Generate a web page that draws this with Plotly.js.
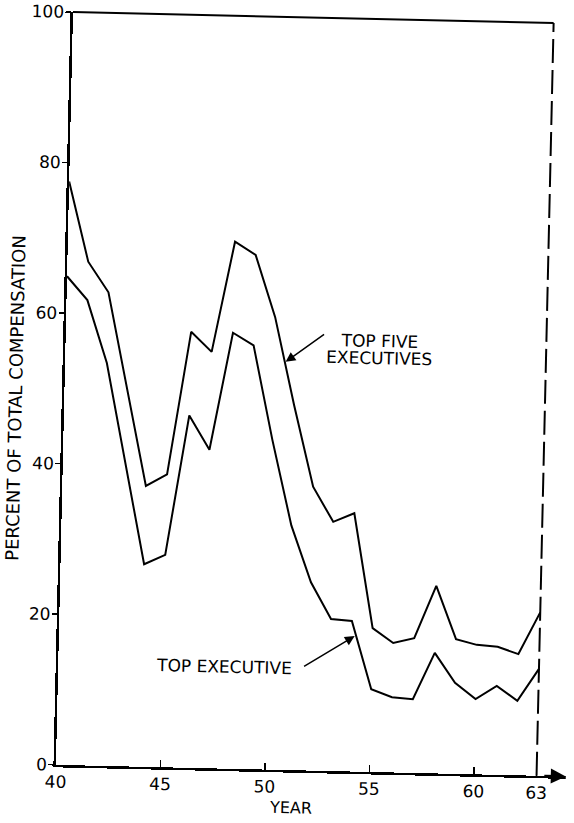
<!DOCTYPE html>
<html>
<head>
<meta charset="utf-8">
<script src="https://cdn.plot.ly/plotly-3.0.1.min.js"></script>
<style>
  html, body { margin: 0; padding: 0; background: #fff; overflow: hidden; }
  #chart { width: 574px; height: 823px; transform: rotate(1.3deg); transform-origin: 50% 50%; }
</style>
</head>
<body>
<div id="chart"></div>
<script>
var years = [40,41,42,43,44,45,46,47,48,49,50,51,52,53,54,55,56,57,58,59,60,61,62,63];
var topFive = [77.5,66.9,62.9,50,37.3,38.9,57.9,55.3,70.0,68.3,60.1,48.5,37.7,33.1,34.3,19.1,17.2,17.9,24.9,17.9,17.2,17.0,16.1,21.7];
var topExec = [64.9,61.8,53.5,40,26.9,28.2,46.8,42.3,57.9,56.3,43.8,32.5,25.0,20.2,20.0,11.0,10.0,9.8,16.0,12.1,10.0,11.8,9.9,14.2];
var xTickVals = [40,45,50,55,60,63];
var xTickText = ['40','45','50','55','60','63'];
var yTickVals = [0,20,40,60,80,100];
var yTickText = ['0','20','40','60','80','100'];

var FONT = 'DejaVu Sans, sans-serif';
var INK = '#000';

var traces = [
  {x: years, y: topFive, mode: 'lines', line: {color: INK, width: 2}, cliponaxis: false, hoverinfo: 'skip', name: 'TOP FIVE EXECUTIVES'},
  {x: years, y: topExec, mode: 'lines', line: {color: INK, width: 2}, cliponaxis: false, hoverinfo: 'skip', name: 'TOP EXECUTIVE'}
];

var layout = {
  width: 574, height: 823,
  margin: {l: 64, r: 0, t: 17, b: 53},
  paper_bgcolor: '#fff', plot_bgcolor: '#fff',
  showlegend: false,
  font: {family: FONT, color: INK, size: 16},
  xaxis: {
    range: [40, 64.4], showgrid: false, zeroline: false,
    showline: true, linecolor: INK, linewidth: 2.5,
    tickmode: 'array', tickvals: xTickVals, ticktext: xTickText,
    ticks: 'inside', ticklen: 7, tickwidth: 1.5, tickcolor: INK,
    tickfont: {family: FONT, size: 17, color: INK}
  },
  yaxis: {
    range: [0, 100], showgrid: false, zeroline: false,
    showline: true, linecolor: INK, linewidth: 2.5,
    tickmode: 'array', tickvals: yTickVals, ticktext: yTickText,
    ticks: 'outside', ticklen: 5, tickwidth: 1.5, tickcolor: INK,
    ticklabelstandoff: -2,
    tickfont: {family: FONT, size: 17, color: INK}
  },
  shapes: [
    {type: 'line', xref: 'x', yref: 'paper', x0: 40, y0: 1, x1: 63, y1: 1, line: {color: INK, width: 2}},
    {type: 'line', xref: 'x', yref: 'paper', x0: 63, y0: 0, x1: 63, y1: 1, line: {color: INK, width: 2, dash: '24px,7px'}}
  ],
  annotations: [
    {x: 64.4, y: 0, ax: 63.3, ay: 0, xref: 'x', yref: 'y', axref: 'x', ayref: 'y', text: '', showarrow: true,
     arrowhead: 2, arrowsize: 1.2, arrowwidth: 2.5, arrowcolor: INK},
    {x: 55.0, y: 57.2, xref: 'x', yref: 'y', text: 'TOP FIVE', showarrow: false,
     font: {family: FONT, size: 17, color: INK}, xanchor: 'center', yanchor: 'middle'},
    {x: 55.0, y: 55.0, xref: 'x', yref: 'y', text: 'EXECUTIVES', showarrow: false,
     font: {family: FONT, size: 17, color: INK}, xanchor: 'center', yanchor: 'middle'},
    {x: 50.55, y: 54.2, ax: 52.43, ay: 58.1, xref: 'x', yref: 'y', axref: 'x', ayref: 'y', text: '', showarrow: true,
     arrowhead: 2, arrowsize: 1.3, arrowwidth: 1.5, arrowcolor: INK},
    {x: 47.96, y: 13.5, xref: 'x', yref: 'y', text: 'TOP EXECUTIVE', showarrow: false,
     font: {family: FONT, size: 17, color: INK}, xanchor: 'center', yanchor: 'middle'},
    {x: 54.15, y: 18.0, ax: 51.69, ay: 13.7, xref: 'x', yref: 'y', axref: 'x', ayref: 'y', text: '', showarrow: true,
     arrowhead: 2, arrowsize: 1.3, arrowwidth: 1.5, arrowcolor: INK},
    {x: 0.4608, y: -0.0502, xref: 'paper', yref: 'paper', text: 'YEAR', showarrow: false,
     font: {family: FONT, size: 16, color: INK}, xanchor: 'center', yanchor: 'middle'},
    {x: -0.0965, y: 0.4858, xref: 'paper', yref: 'paper', text: 'PERCENT OF TOTAL COMPENSATION', showarrow: false, textangle: -90,
     font: {family: FONT, size: 18, color: INK}, xanchor: 'center', yanchor: 'middle'}
  ]
};

Plotly.newPlot('chart', traces, layout, {staticPlot: true, displayModeBar: false});
</script>
</body>
</html>
